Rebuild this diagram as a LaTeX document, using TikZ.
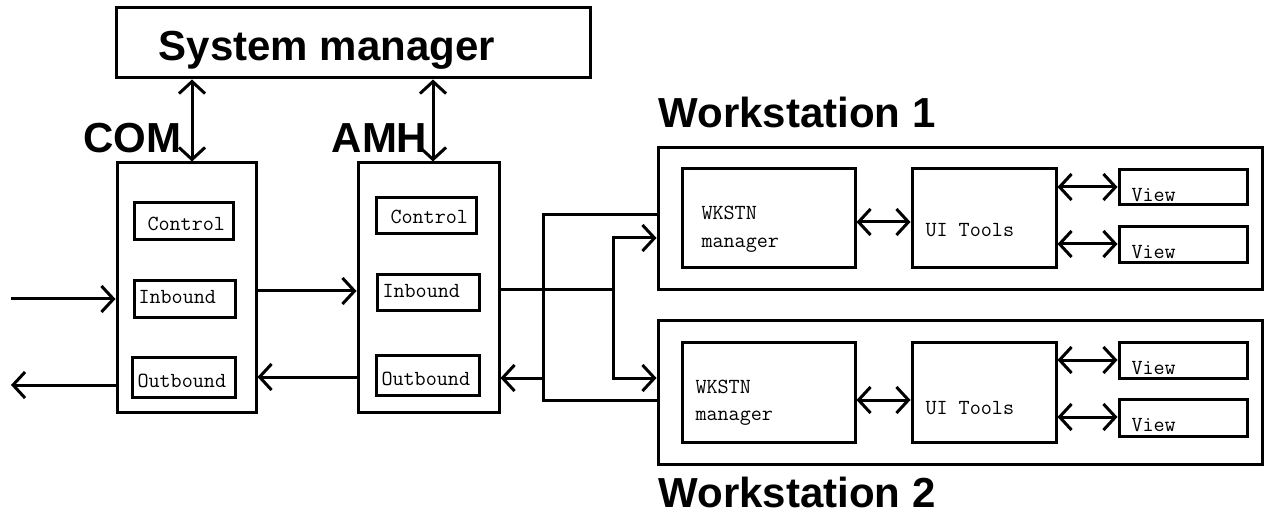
\documentclass[tikz,border=0pt]{standalone}
\usepackage{fontspec}
\newfontfamily\bigsans{Liberation Sans}
\usetikzlibrary{arrows.meta}
\tikzset{
  x=1pt, y=-1pt,
  every path/.style={line width=3pt},
  box/.style={draw, rectangle, inner sep=0pt, line width=3pt},
  bigtxt/.style={inner sep=0pt, anchor=base, font=\bigsans\bfseries\fontsize{42}{48}\selectfont},
  smtxt/.style={inner sep=0pt, anchor=base west, font=\ttfamily\fontsize{21.5}{24}\selectfont},
  conn/.style={line width=3pt},
  tip/.tip={Straight Barb[length=12pt,width=26pt,line width=3pt]},
}
\newcommand{\boxat}[5]{% name, x1, y1, x2, y2
  \node[box, minimum width={#4-#2}, minimum height={#5-#3}] (#1) at ({(#2+#4)/2},{(#3+#5)/2}) {};}
\begin{document}
\begin{tikzpicture}
\useasboundingbox (0,0) rectangle (1265,518);
% boxes
\boxat{sm}{116}{8}{590}{78}
\boxat{com}{117}{163}{256}{412}
\boxat{amh}{358}{163}{499}{412}
\boxat{comctl}{134}{203}{233}{240}
\boxat{comin}{134}{281}{235}{317}
\boxat{comout}{132}{357}{235}{397}
\boxat{amhctl}{376}{198}{476}{234}
\boxat{amhin}{377}{275}{479}{311}
\boxat{amhout}{376}{355}{479}{395}
\boxat{ws1}{658}{148}{1262}{290}
\boxat{ws2}{658}{320}{1262}{464}
\boxat{wm1}{682}{169}{855}{268}
\boxat{ui1}{912}{169}{1056}{268}
\boxat{va1}{1119}{170}{1247}{205}
\boxat{vb1}{1119}{227}{1247}{263}
\boxat{wm2}{682}{342}{855}{442}
\boxat{ui2}{912}{342}{1056}{442}
\boxat{va2}{1119}{342}{1247}{378}
\boxat{vb2}{1119}{399}{1247}{436}
% big labels
\node[bigtxt] (smt) at (327,61) {System manager};
\node[bigtxt] (comt) at (132.5,153) {COM};
\node[bigtxt] (amht) at (379.5,153) {AMH};
\node[bigtxt, anchor=base west] (ws1t) at (657,128) {Workstation 1};
\node[bigtxt, anchor=base west] (ws2t) at (657,507) {Workstation 2};
% small labels
\node[smtxt] (comctlt) at (146,231) {Control};
\node[smtxt] (comint) at (137,304) {Inbound};
\node[smtxt] (comoutt) at (136,387) {Outbound};
\node[smtxt] (amhctlt) at (389,224) {Control};
\node[smtxt] (amhint) at (381,298) {Inbound};
\node[smtxt] (amhoutt) at (380,385) {Outbound};
\node[smtxt] (wm1a) at (700,220) {WKSTN};
\node[smtxt] (wm1b) at (700,248) {manager};
\node[smtxt] (ui1t) at (924,237) {UI Tools};
\node[smtxt] (va1t) at (1130,202) {View};
\node[smtxt] (vb1t) at (1130,259) {View};
\node[smtxt] (wm2a) at (694,393) {WKSTN};
\node[smtxt] (wm2b) at (694,420) {manager};
\node[smtxt] (ui2t) at (924,414) {UI Tools};
\node[smtxt] (va2t) at (1130,374) {View};
\node[smtxt] (vb2t) at (1130,431) {View};
% free ends and junctions
\coordinate (inL) at (11,299);
\coordinate (outL) at (11,385);
\coordinate (jA) at (613,290);
\coordinate (jB) at (543,378);
% connectors
\draw[conn, tip-tip] (sm.south -| 192,0) -- (com.north -| 192,0);
\draw[conn, tip-tip] (sm.south -| 433,0) -- (amh.north -| 433,0);
\draw[conn, -tip] (inL) -- (com.west |- inL);
\draw[conn, -tip] (com.west |- outL) -- (outL);
\draw[conn, -tip] (com.east |- 0,291) -- (amh.west |- 0,291);
\draw[conn, -tip] (amh.west |- 0,377) -- (com.east |- 0,377);
\draw[conn] (amh.east |- jA) -- (jA);
\draw[conn, -tip] (jA) -- (613,238) -- (ws1.west |- 0,238);
\draw[conn, -tip] (jA) -- (613,378) -- (ws2.west |- 0,378);
\draw[conn] (ws1.west |- 0,215) -- (543,215) -- (543,400) -- (ws2.west |- 0,400);
\draw[conn, -tip] (jB) -- (amh.east |- jB);
\draw[conn, tip-tip] (wm1.east |- 0,222) -- (ui1.west |- 0,222);
\draw[conn, tip-tip] (ui1.east |- 0,187) -- (va1.west |- 0,187);
\draw[conn, tip-tip] (ui1.east |- 0,244) -- (vb1.west |- 0,244);
\draw[conn, tip-tip] (wm2.east |- 0,400) -- (ui2.west |- 0,400);
\draw[conn, tip-tip] (ui2.east |- 0,360) -- (va2.west |- 0,360);
\draw[conn, tip-tip] (ui2.east |- 0,417) -- (vb2.west |- 0,417);
\end{tikzpicture}
\end{document}
